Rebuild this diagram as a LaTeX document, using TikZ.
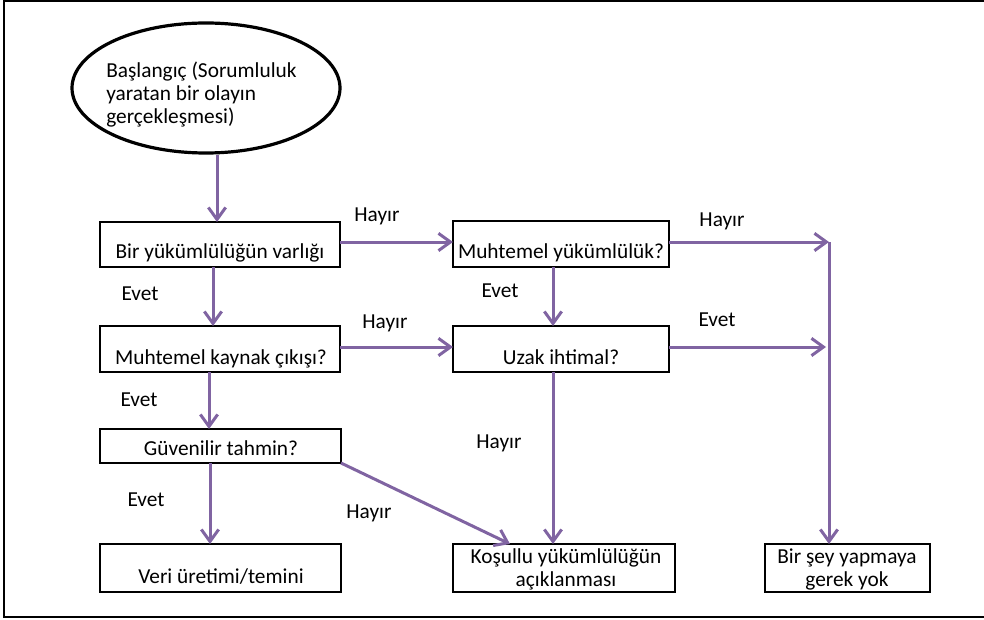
\documentclass[tikz,border=0pt]{standalone}
\usepackage{fontspec}
\setmainfont{Carlito}
\usetikzlibrary{arrows.meta,shapes.geometric,calc}
\definecolor{arrowpurple}{RGB}{128,100,162}
\begin{document}
\begin{tikzpicture}[x=0.75pt,y=-0.75pt,
  every node/.style={font=\fontsize{16}{17.25}\selectfont},
  boxnode/.style={draw=black, line width=2.1pt, rectangle, inner sep=0pt, outer sep=0pt, fill=white},
  txt/.style={inner sep=0pt, text height=0.72em, text depth=0.22em, align=center},
  mtxt/.style={inner sep=0pt, align=center},
  lbl/.style={inner sep=0pt, text height=0.72em, text depth=0.22em},
  arr/.style={draw=arrowpurple, line width=2.25pt, -{Straight Barb[length=9pt,width=13pt,line width=2.25pt]}}]
\useasboundingbox (0,0) rectangle (984,620);
% frame
\draw[line width=1.5pt] (984,1) -- (4,1) -- (4,617) -- (984,617);
% start ellipse
\node[ellipse, draw=black, line width=2.4pt, minimum width=201pt, minimum height=97.5pt, inner sep=0pt] (start) at (206,88) {};
\node[mtxt, align=left, anchor=west] (starttxt) at (106,95) {Başlangıç (Sorumluluk\\yaratan bir olayın\\gerçekleşmesi)};
% boxes
\node[boxnode, minimum width=180pt, minimum height=33.75pt] (b1) at (220,244.5) {};
\node[boxnode, minimum width=180pt, minimum height=34.5pt] (b2) at (220,349) {};
\node[boxnode, minimum width=162pt, minimum height=34.5pt] (my) at (561,244) {};
\node[boxnode, minimum width=162pt, minimum height=34.5pt] (uz) at (561,349) {};
\node[boxnode, minimum width=180.75pt, minimum height=25.5pt] (guv) at (220.5,446) {};
\node[boxnode, minimum width=180.75pt, minimum height=36pt] (veri) at (220.5,568) {};
\node[boxnode, minimum width=166.5pt, minimum height=36pt] (kos) at (564,568) {};
\node[boxnode, minimum width=123.75pt, minimum height=36pt] (bir) at (847.5,568) {};
% box texts
\node[txt] (t1) at (220,255) {Bir yükümlülüğün varlığı};
\node[txt] (t2) at (221,361) {Muhtemel kaynak çıkışı?};
\node[txt] (t3) at (561,255) {Muhtemel yükümlülük?};
\node[txt] (t4) at (561,361) {Uzak ihtimal?};
\node[txt] (t5) at (221,452) {Güvenilir tahmin?};
\node[txt] (t6) at (221,580) {Veri üretimi/temini};
\node[mtxt] (t7) at (566,569) {Koşullu yükümlülüğün\\açıklanması};
\node[mtxt] (t8) at (847,569) {Bir şey yapmaya\\gerek yok};
% connector coordinates
\coordinate (jA) at (829,242);
\coordinate (jB) at (826,347);
\coordinate (cA) at (217,0);
\coordinate (cB) at (213,0);
\coordinate (cC) at (209,0);
\coordinate (cD) at (210,0);
\coordinate (cE) at (553,0);
\coordinate (kE) at (510,0);
% connectors
\draw[arr] (cA |- start.south) -- (cA |- b1.north);
\draw[arr] (b1.east |- jA) -- (my.west |- jA);
\draw[arr] (my.east |- jA) -- (jA);
\draw[arr] (cB |- b1.south) -- (cB |- b2.north);
\draw[arr] (cE |- my.south) -- (cE |- uz.north);
\draw[arr] (b2.east |- jB) -- (uz.west |- jB);
\draw[arr] (uz.east |- jB) -- (jB);
\draw[arr] (jA) -- (jA |- bir.north);
\draw[arr] (cC |- b2.south) -- (cC |- guv.north);
\draw[arr] (cD |- guv.south) -- (cD |- veri.north);
\draw[arr] (guv.south east) -- (kE |- kos.north);
\draw[arr] (cE |- uz.south) -- (cE |- kos.north);
% labels
\node[lbl] (l1) at (377,218) {Hayır};
\node[lbl] (l2) at (140,297) {Evet};
\node[lbl] (l3) at (385,325) {Hayır};
\node[lbl] (l4) at (500,294) {Evet};
\node[lbl] (l5) at (722,223) {Hayır};
\node[lbl] (l6) at (717,323) {Evet};
\node[lbl] (l7) at (139,403) {Evet};
\node[lbl] (l8) at (146,503) {Evet};
\node[lbl] (l9) at (369,515) {Hayır};
\node[lbl] (l10) at (499,445) {Hayır};
\end{tikzpicture}
\end{document}
